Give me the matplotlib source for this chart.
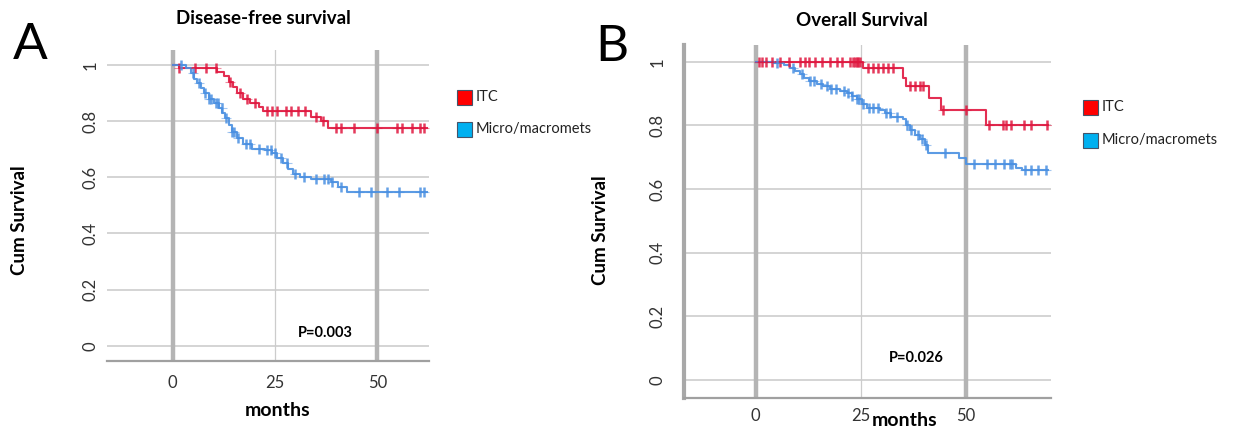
import numpy as np
import matplotlib
matplotlib.use("Agg")
import matplotlib.pyplot as plt
from matplotlib.patches import Rectangle

plt.rcParams['font.family'] = ['Lato', 'DejaVu Sans']

# ---------------- data ----------------
# Disease-free survival
dfs_itc_t = [0, 1.5, 10.9, 12.5, 13.7, 14.7, 15.7, 17.3, 19.0, 21.0, 22.2, 33.9, 36.3, 37.9]
dfs_itc_s = [1.0, 0.99, 0.975, 0.96, 0.94, 0.92, 0.90, 0.88, 0.865, 0.85, 0.836, 0.815, 0.80, 0.774]
dfs_itc_end = 62.0
dfs_itc_cens = [1.6, 5.5, 8.1, 10.5, 14.1, 16.5, 18.1, 20.2, 23, 24.2, 25.4, 27.8, 29, 30.6,
                32.3, 35.1, 36.7, 39.9, 41.1, 44.4, 50, 54.8, 56, 58.5, 60.5, 61.3]

dfs_mic_t = [0, 3.2, 4.4, 5.2, 6.0, 6.9, 7.7, 8.9, 10.1, 11.3, 12.1, 12.9, 13.7, 14.5, 15.7,
             17.3, 19.4, 22.6, 24.2, 25.4, 27.0, 28.2, 29.4, 31.0, 33.9, 38.7, 40.3, 42.7]
dfs_mic_s = [1.0, 0.99, 0.97, 0.95, 0.935, 0.917, 0.90, 0.88, 0.863, 0.845, 0.827, 0.81, 0.786,
             0.762, 0.738, 0.72, 0.70, 0.696, 0.685, 0.667, 0.649, 0.63, 0.613, 0.60, 0.595,
             0.583, 0.565, 0.548]
dfs_mic_end = 62.0
dfs_mic_cens = [2, 5, 6.5, 8, 9, 9.5, 10.5, 11, 12, 13, 14.5, 15, 16, 18, 19, 21, 23, 24, 25,
                26.5, 28, 30, 32, 35, 37, 38, 39, 41, 45.6, 48.4, 52.4, 55.2, 60.5, 61.3]

# Overall survival
os_itc_t = [0, 25.6, 35.0, 35.8, 41.3, 44.1, 54.7]
os_itc_s = [1.0, 0.98, 0.95, 0.924, 0.887, 0.848, 0.803]
os_itc_end = 69.5
os_itc_cens = [0.8, 1.6, 2.4, 3.9, 5.9, 7.9, 10.6, 11.8, 12.6, 14.2, 15.7, 17.7, 19.3, 20.5,
               22.4, 23.2, 23.6, 24, 24.4, 24.8, 26.8, 28, 29.1, 30.3, 31.5, 32.7, 36.6, 37.8,
               39, 39.8, 44.5, 50, 55.5, 58.7, 59.4, 60.6, 63.8, 65.4, 69.3]

os_mic_t = [0, 4.3, 6.7, 8.3, 9.4, 10.6, 11.4, 12.6, 14.6, 16.1, 17.7, 20.1, 21.7, 22.8, 24.0,
            25.2, 26.4, 29.5, 30.7, 32.3, 35.0, 35.8, 36.6, 37.8, 39.0, 40.2, 41.0, 48.4, 50.0,
            61.8, 63.4]
os_mic_s = [1.0, 0.996, 0.99, 0.982, 0.972, 0.961, 0.95, 0.94, 0.929, 0.924, 0.916, 0.908,
            0.901, 0.893, 0.882, 0.866, 0.856, 0.848, 0.838, 0.827, 0.819, 0.803, 0.787, 0.771,
            0.756, 0.74, 0.714, 0.698, 0.68, 0.666, 0.659]
os_mic_end = 69.5
os_mic_cens = [5, 9, 11, 13, 14, 15.5, 17, 18, 19, 21, 22, 23, 24, 24.5, 25.5, 27, 28, 29, 31,
               32, 33.5, 36, 37, 38.5, 39.5, 40.5, 45, 52, 55, 57, 59, 60.5, 61, 64, 65.5, 67, 69]

groups = ["ITC", "Micro/macromets"]
yticks = [0, 0.2, 0.4, 0.6, 0.8, 1.0]
ytick_labels = ["0", "0.2", "0.4", "0.6", "0.8", "1"]
xticks = [0, 25, 50]

RED = "#e0173f"
BLUE = "#4a90e2"
LEG_RED = "#ff0000"
LEG_BLUE = "#00b0f0"

W, H = 1237, 437
fig = plt.figure(figsize=(W / 100, H / 100), dpi=100)


def fx(px):
    return px / W


def fy(py):
    return 1 - py / H


def km(ax, t, s, end, cens, color):
    tt = list(t) + [end]
    ss = list(s) + [s[-1]]
    ax.step(tt, ss, where='post', color=color, lw=1.5, zorder=4, alpha=0.9)
    c = np.array(cens)
    idx = np.searchsorted(np.array(t), c, side='right') - 1
    cy = np.array(s)[idx]
    ax.plot(c, cy, ls='none', marker='|', ms=6.5, mew=1.8, color=color, zorder=5, alpha=0.85)
    ax.plot(c, cy, ls='none', marker='_', ms=7, mew=0.8, color=color, zorder=5, alpha=0.5)


def style(ax, xlim, ylim, left_spine):
    ax.set_xlim(*xlim)
    ax.set_ylim(*ylim)
    for sp in ['top', 'right']:
        ax.spines[sp].set_visible(False)
    ax.spines['bottom'].set_color('#a0a0a0')
    ax.spines['bottom'].set_linewidth(1.6)
    if left_spine:
        ax.spines['left'].set_color('#a8a8a8')
        ax.spines['left'].set_linewidth(3)
    else:
        ax.spines['left'].set_visible(False)
    for y in yticks:
        ax.axhline(y, color='#d4d4d4', lw=1.4, zorder=1)
    ax.axvline(0, color='#b4b4b4', lw=3.2, zorder=2)
    ax.axvline(50, color='#b4b4b4', lw=3.2, zorder=2)
    ax.axvline(25, color='#cccccc', lw=0.9, zorder=2)
    ax.set_yticks(yticks)
    ax.set_yticklabels(ytick_labels, rotation=90, va='center', fontsize=12, color='#333333')
    ax.set_xticks(xticks)
    ax.set_xticklabels([str(v) for v in xticks], fontsize=12, color='#333333')
    ax.tick_params(length=0)


# Panel A
axA = fig.add_axes([fx(107), fy(361), fx(429) - fx(107), fy(50) - fy(361)])
style(axA, (-16, 62.6), (-0.054, 1.053), False)
axA.tick_params(axis='y', pad=6)
axA.tick_params(axis='x', pad=10)
km(axA, dfs_itc_t, dfs_itc_s, dfs_itc_end, dfs_itc_cens, RED)
km(axA, dfs_mic_t, dfs_mic_s, dfs_mic_end, dfs_mic_cens, BLUE)

# Panel B
axB = fig.add_axes([fx(684), fy(398), fx(1051) - fx(684), fy(45) - fy(398)])
style(axB, (-17, 70.2), (-0.057, 1.053), True)
axB.tick_params(axis='y', pad=13)
axB.tick_params(axis='x', pad=7)
km(axB, os_itc_t, os_itc_s, os_itc_end, os_itc_cens, RED)
km(axB, os_mic_t, os_mic_s, os_mic_end, os_mic_cens, BLUE)

# Texts
fig.text(fx(30), fy(45), "A", fontsize=37, ha='center', va='center')
fig.text(fx(612), fy(47), "B", fontsize=37, ha='center', va='center')
fig.text(fx(263), fy(18), "Disease-free survival", fontsize=13.5, fontweight='bold', ha='center', va='center')
fig.text(fx(862), fy(21), "Overall Survival", fontsize=13.5, fontweight='bold', ha='center', va='center')
fig.text(fx(20), fy(220), "Cum Survival", fontsize=13.5, fontweight='bold', rotation=90, ha='center', va='center')
fig.text(fx(600), fy(230), "Cum Survival", fontsize=13.5, fontweight='bold', rotation=90, ha='center', va='center')
fig.text(fx(278), fy(411), "months", fontsize=14, fontweight='bold', ha='center', va='center')
fig.text(fx(905), fy(421), "months", fontsize=14, fontweight='bold', ha='center', va='center')
fig.text(fx(325), fy(333), "P=0.003", fontsize=10.5, fontweight='bold', ha='center', va='center')
fig.text(fx(916), fy(358), "P=0.026", fontsize=10.5, fontweight='bold', ha='center', va='center')

# Legends
def legend(x0, ys):
    for (label, col, y) in zip(groups, [LEG_RED, LEG_BLUE], ys):
        fig.patches.append(Rectangle((fx(x0), fy(y + 7.5)), 15 / W, 15 / H, transform=fig.transFigure,
                                     facecolor=col, edgecolor='#44546a', lw=0.8))
        fig.text(fx(x0 + 19), fy(y), label, fontsize=10.5, ha='left', va='center', color='#222222')

legend(457, [97, 129])
legend(1083, [107, 140])

fig.savefig("out.png", dpi=100)
